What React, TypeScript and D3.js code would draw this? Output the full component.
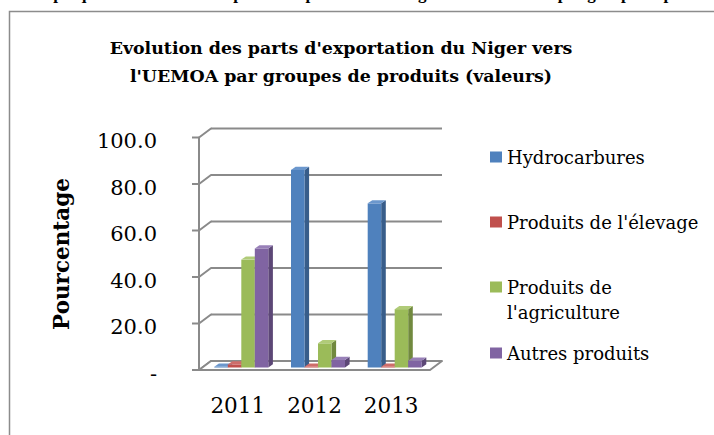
import React from "react";
import * as d3 from "d3";

const categories = ["2011", "2012", "2013"];
const seriesNames = ["Hydrocarbures", "Produits de l'élevage", "Produits de l'agriculture", "Autres produits"];
const hydrocarbures = [0.3, 85.0, 70.6];
const elevage = [1.3, 0.3, 0.3];
const agriculture = [46.4, 10.4, 25.1];
const autres = [51.2, 3.2, 2.9];
const yTicks = [0, 20, 40, 60, 80, 100];
const yTickLabels = ["-", "20.0", "40.0", "60.0", "80.0", "100.0"];
const legendLines = [["Hydrocarbures"], ["Produits de l'élevage"], ["Produits de", "l'agriculture"], ["Autres produits"]];

const seriesValues = [hydrocarbures, elevage, agriculture, autres];
const faceColors = ["#4F81BD", "#C0504D", "#9BBB59", "#8064A2"];
const sideColors = ["#385D8A", "#8C3836", "#71893F", "#5C4776"];
const topColors = ["#6B97CD", "#CE6D6A", "#B0CB78", "#9880B8"];

const W = 714;
const H = 435;
const left = 199;
const right = 430;
const DX = 12;
const DY = -9;
const BDX = 4.6;
const BDY = -3.2;
const OFFX = 3.5;
const OFFY = -2.5;
const grid = "#8A8A8A";
const serif = "'DejaVu Serif', serif";

export default function App() {
  const y = d3.scaleLinear().domain([0, 100]).range([370, 137.5]);
  const x0 = d3.scaleBand<string>().domain(categories).range([left, right]).paddingInner(0.296).paddingOuter(0.154);
  const x1 = d3.scaleBand<string>().domain(seriesNames).range([0, x0.bandwidth()]);
  const bw = x1.bandwidth();

  const bars: React.ReactNode[] = [];
  categories.forEach((c, ci) => {
    seriesNames.forEach((s, si) => {
      const v = seriesValues[si][ci];
      const xl = (x0(c) as number) + (x1(s) as number) + OFFX;
      const xr = xl + bw;
      const yb = y(0) + OFFY;
      const yt = y(v) + OFFY;
      bars.push(
        <g key={c + s}>
          <polygon points={`${xr},${yt} ${xr + BDX},${yt + BDY} ${xr + BDX},${yb + BDY} ${xr},${yb}`} fill={sideColors[si]} />
          <rect x={xl} y={yt} width={bw} height={yb - yt} fill={faceColors[si]} />
          <polygon points={`${xl},${yt} ${xl + BDX},${yt + BDY} ${xr + BDX},${yt + BDY} ${xr},${yt}`} fill={topColors[si]} />
        </g>
      );
    });
  });

  const legendY = [157, 222, 287, 353];

  return (
    <svg width={W} height={H} style={{ position: "absolute", left: 0, top: 0, background: "#fff" }}>
      <text x={24} y={-1.5} fontFamily="'Liberation Serif', serif" fontWeight="bold" fontSize={17} fill="#000">
        Graphique 3 : Evolution des parts d'exportation du Niger vers l'UEMOA par groupe de produits
      </text>
      <rect x={9.5} y={11.5} width={800} height={500} fill="#fff" stroke="#8C8C8C" strokeWidth={1.5} />

      <text x={341} y={54} textAnchor="middle" fontFamily={serif} fontWeight="bold" fontSize={17.4} fill="#000">
        Evolution des parts d'exportation du Niger vers
      </text>
      <text x={341} y={82} textAnchor="middle" fontFamily={serif} fontWeight="bold" fontSize={17.4} fill="#000">
        l'UEMOA par groupes de produits (valeurs)
      </text>

      {yTicks.map((t) => (
        <line key={"g" + t} x1={left + DX} x2={right + DX} y1={y(t) + DY} y2={y(t) + DY} stroke={grid} strokeWidth={2} />
      ))}
      {yTicks.map((t) => (
        <line key={"d" + t} x1={left} x2={left + DX} y1={y(t)} y2={y(t) + DY} stroke={grid} strokeWidth={2} strokeLinecap="round" />
      ))}
      <polygon
        points={`${left},${y(0)} ${right},${y(0)} ${right + DX},${y(0) + DY} ${left + DX},${y(0) + DY}`}
        fill="#fff"
        stroke={grid}
        strokeWidth={2}
        strokeLinejoin="round"
      />
      <line x1={left} x2={left} y1={y(100)} y2={y(0)} stroke={grid} strokeWidth={2} />
      {yTicks.map((t, i) => (
        <g key={"t" + t}>
          <line x1={left - 7} x2={left} y1={y(t)} y2={y(t)} stroke={grid} strokeWidth={2} />
          <text x={157} y={y(t) + 10.5} textAnchor="end" fontFamily={serif} fontSize={21} fill="#000">
            {yTickLabels[i]}
          </text>
        </g>
      ))}

      {bars}

      {categories.map((c) => (
        <text key={"c" + c} x={(x0(c) as number) + x0.bandwidth() / 2} y={413} textAnchor="middle" fontFamily={serif} fontSize={21.5} fill="#000">
          {c}
        </text>
      ))}

      <text transform="translate(69,254) rotate(-90)" textAnchor="middle" fontFamily={serif} fontWeight="bold" fontSize={21.5} fill="#000">
        Pourcentage
      </text>

      {legendLines.map((lines, i) => (
        <g key={"l" + i}>
          <rect x={490} y={legendY[i] - 5.5} width={12} height={11} fill={faceColors[i]} />
          {lines.map((ln, j) => (
            <text key={j} x={507} y={legendY[i] + 6.5 + j * 25} fontFamily={serif} fontSize={18} fill="#000">
              {ln}
            </text>
          ))}
        </g>
      ))}
    </svg>
  );
}
